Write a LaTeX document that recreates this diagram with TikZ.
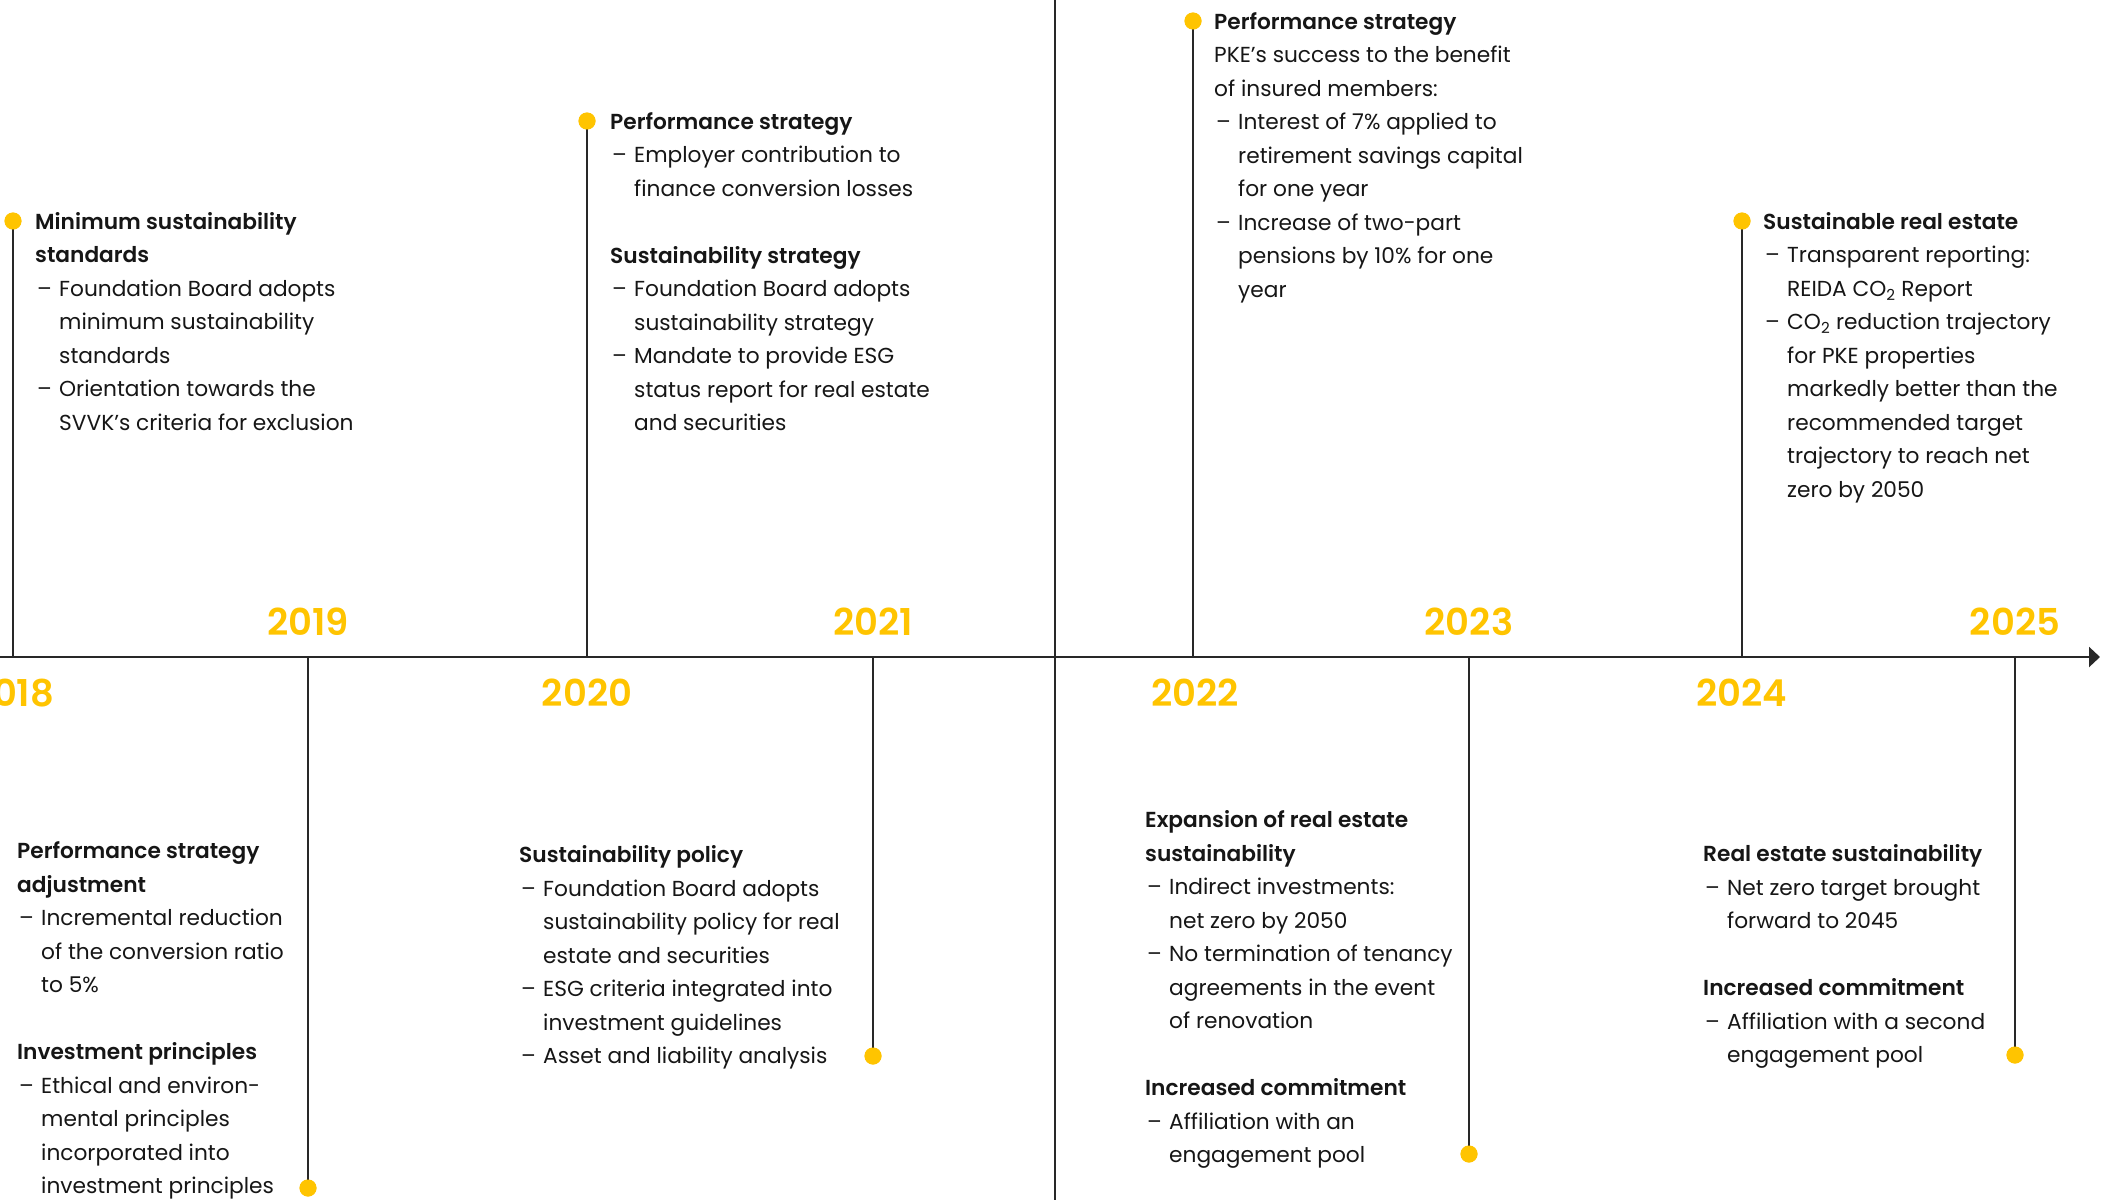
\documentclass[tikz,border=0pt]{standalone}
\usepackage{fontspec}
\setmainfont{Poppins}[BoldFont={Poppins SemiBold}]
\usetikzlibrary{arrows.meta}

\definecolor{pkeyellow}{RGB}{255,196,0}
\definecolor{ink}{RGB}{22,22,22}
\definecolor{rule}{RGB}{40,40,40}

% bulleted line and its continuation lines
\newcommand\bitem[1]{\makebox[24pt][l]{\hspace{2pt}–}#1}
\newcommand\bcont[1]{\hspace*{24pt}#1}

\tikzset{
  dot/.style={circle, fill=pkeyellow, draw=none, minimum size=17pt, inner sep=0pt},
  stem/.style={draw=rule, line width=1.4pt},
  axisline/.style={draw=rule, line width=2.2pt, -{Triangle[length=11pt,width=20pt]}},
  divider/.style={draw=rule, line width=1.6pt},
  yearlabel/.style={text=pkeyellow, anchor=base, inner sep=0pt,
    font=\fontsize{37}{40}\selectfont\bfseries},
  block/.style={text=ink, align=left, inner sep=0pt,
    font=\fontsize{21.7}{33.5}\selectfont},
}

\begin{document}
\begin{tikzpicture}[x=1pt, y=-1pt]
\useasboundingbox (0,0) rectangle (2102,1200);
\clip (0,0) rectangle (2102,1200);
\fill[white] (0,0) rectangle (2102,1200);

% vertical divider between 2021 and 2022
\coordinate (divT) at (1055,0);
\coordinate (divB) at (1055,1200);
\draw[divider] (divT) -- (divB);

% time axis
\coordinate (axL) at (0,657);
\coordinate (axR) at (2100,657);
\draw[axisline] (axL) -- (axR);

% points on the axis
\coordinate (a18) at (13,657);
\coordinate (a19) at (308,657);
\coordinate (a20) at (587,657);
\coordinate (a21) at (873,657);
\coordinate (a22) at (1193,657);
\coordinate (a23) at (1469,657);
\coordinate (a24) at (1742,657);
\coordinate (a25) at (2015,657);

% milestone dots
\node[dot] (d18) at (13,221) {};
\node[dot] (d19) at (308,1188) {};
\node[dot] (d20) at (587,121) {};
\node[dot] (d21) at (873,1056) {};
\node[dot] (d22) at (1193,21) {};
\node[dot] (d23) at (1469,1154) {};
\node[dot] (d24) at (1742,221) {};
\node[dot] (d25) at (2015,1055) {};

% stems
\foreach \y in {18,19,20,21,22,23,24,25}{
  \draw[stem] (d\y.center) -- (a\y);
}
\foreach \y in {18,19,20,21,22,23,24,25}{
  \node[dot] at (d\y.center) {};
}

% year labels
\node[yearlabel] (y18) at (13,706) {2018};
\node[yearlabel] (y19) at (308,635) {2019};
\node[yearlabel] (y20) at (587,706) {2020};
\node[yearlabel] (y21) at (873,635) {2021};
\node[yearlabel] (y22) at (1195,706) {2022};
\node[yearlabel] (y23) at (1469,635) {2023};
\node[yearlabel] (y24) at (1742,706) {2024};
\node[yearlabel] (y25) at (2015,635) {2025};

% 2018
\node[block, anchor=north west] (t18) at (35,205.5) {%
  \strut\textbf{Minimum sustainability}\\
  \textbf{standards}\\
  \bitem{Foundation Board adopts}\\
  \bcont{minimum sustainability}\\
  \bcont{standards}\\
  \bitem{Orientation towards the}\\
  \bcont{SVVK’s criteria for exclusion}\strut};

% 2019
\node[block, anchor=south west] (t19) at (17,1204) {%
  \strut\textbf{Performance strategy}\\
  \textbf{adjustment}\\
  \bitem{Incremental reduction}\\
  \bcont{of the conversion ratio}\\
  \bcont{to 5\%}\\
  \strut\\
  \textbf{Investment principles}\\
  \bitem{Ethical and environ-}\\
  \bcont{mental principles}\\
  \bcont{incorporated into}\\
  \bcont{investment principles}\strut};

% 2020
\node[block, anchor=north west] (t20) at (610,105.5) {%
  \strut\textbf{Performance strategy}\\
  \bitem{Employer contribution to}\\
  \bcont{finance conversion losses}\\
  \strut\\
  \textbf{Sustainability strategy}\\
  \bitem{Foundation Board adopts}\\
  \bcont{sustainability strategy}\\
  \bitem{Mandate to provide ESG}\\
  \bcont{status report for real estate}\\
  \bcont{and securities}\strut};

% 2021
\node[block, anchor=south west] (t21) at (519,1074) {%
  \strut\textbf{Sustainability policy}\\
  \bitem{Foundation Board adopts}\\
  \bcont{sustainability policy for real}\\
  \bcont{estate and securities}\\
  \bitem{ESG criteria integrated into}\\
  \bcont{investment guidelines}\\
  \bitem{Asset and liability analysis}\strut};

% 2022
\node[block, anchor=north west] (t22) at (1214,5.5) {%
  \strut\textbf{Performance strategy}\\
  PKE’s success to the benefit\\
  of insured members:\\
  \bitem{Interest of 7\% applied to}\\
  \bcont{retirement savings capital}\\
  \bcont{for one year}\\
  \bitem{Increase of two-part}\\
  \bcont{pensions by 10\% for one}\\
  \bcont{year}\strut};

% 2023
\node[block, anchor=south west] (t23) at (1145,1173) {%
  \strut\textbf{Expansion of real estate}\\
  \textbf{sustainability}\\
  \bitem{Indirect investments:}\\
  \bcont{net zero by 2050}\\
  \bitem{No termination of tenancy}\\
  \bcont{agreements in the event}\\
  \bcont{of renovation}\\
  \strut\\
  \textbf{Increased commitment}\\
  \bitem{Affiliation with an}\\
  \bcont{engagement pool}\strut};

% 2024
\node[block, anchor=north west] (t24) at (1763,205.5) {%
  \strut\textbf{Sustainable real estate}\\
  \bitem{Transparent reporting:}\\
  \bcont{REIDA CO\textsubscript{2} Report}\\
  \bitem{CO\textsubscript{2} reduction trajectory}\\
  \bcont{for PKE properties}\\
  \bcont{markedly better than the}\\
  \bcont{recommended target}\\
  \bcont{trajectory to reach net}\\
  \bcont{zero by 2050}\strut};

% 2025
\node[block, anchor=south west] (t25) at (1703,1073) {%
  \strut\textbf{Real estate sustainability}\\
  \bitem{Net zero target brought}\\
  \bcont{forward to 2045}\\
  \strut\\
  \textbf{Increased commitment}\\
  \bitem{Affiliation with a second}\\
  \bcont{engagement pool}\strut};
\end{tikzpicture}
\end{document}
